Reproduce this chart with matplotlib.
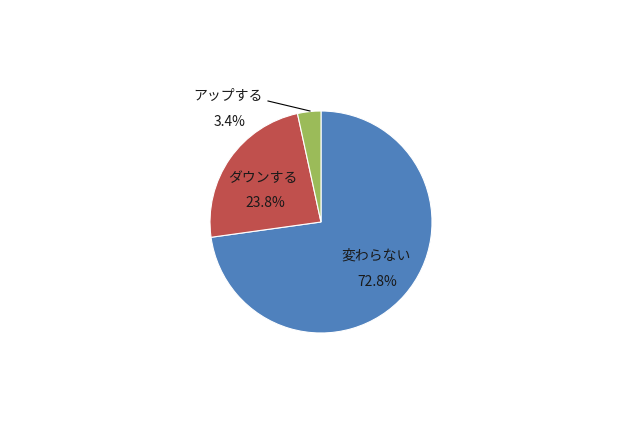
import matplotlib
matplotlib.use("Agg")
import matplotlib.pyplot as plt

plt.rcParams['font.family'] = ['Noto Sans CJK JP', 'DejaVu Sans']

# data
labels = ['変わらない', 'ダウンする', 'アップする']
shares = [72.8, 23.8, 3.4]
colors = ['#4F81BD', '#C0504D', '#9BBB59']

W, H = 640, 426
fig = plt.figure(figsize=(W / 100, H / 100), dpi=100)
ax = fig.add_axes([0, 0, 1, 1])

cx, cy, r = 321, 222, 111
# y axis gets inverted (pixel coords), so start at -90 and go counterclockwise
ax.pie(shares, colors=colors, startangle=-90, counterclock=True,
       center=(cx, cy), radius=r,
       wedgeprops=dict(edgecolor='white', linewidth=0.8))
ax.set_xlim(0, W)
ax.set_ylim(H, 0)
ax.set_aspect('equal')
ax.axis('off')

fs = 10
tc = '#1a1a1a'
ax.text(376, 256, labels[0], fontsize=fs, ha='center', va='center', color=tc)
ax.text(377, 282, f'{shares[0]}%', fontsize=fs, ha='center', va='center', color=tc)
ax.text(263, 178, labels[1], fontsize=fs, ha='center', va='center', color=tc)
ax.text(265, 203, f'{shares[1]}%', fontsize=fs, ha='center', va='center', color=tc)
ax.text(228, 96, labels[2], fontsize=fs, ha='center', va='center', color=tc)
ax.text(230, 122, f'{shares[2]}%', fontsize=fs, ha='center', va='center', color=tc)
ax.plot([268, 310], [101, 111], color='black', linewidth=0.8, zorder=5)

fig.savefig('out.png', dpi=100, facecolor='white')
